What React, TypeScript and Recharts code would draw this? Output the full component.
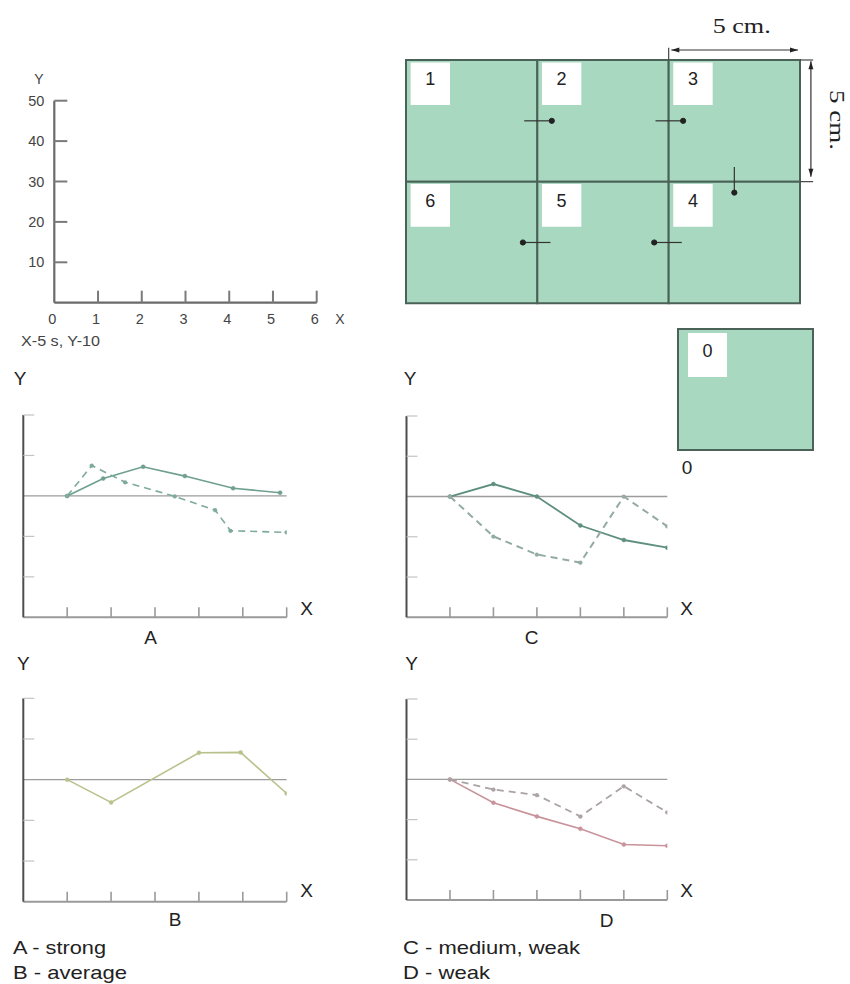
import React from 'react';
import { LineChart, Line, XAxis, YAxis, ReferenceLine, ReferenceArea, ReferenceDot } from 'recharts';

const sans = '"Liberation Sans", Arial, sans-serif';
const serif = '"Liberation Serif", "Times New Roman", serif';

// ---- top-left empty axes ----
const mainXTicks = [0, 1, 2, 3, 4, 5, 6];
const mainYTicks = [10, 20, 30, 40, 50];
const mainNote = 'X-5 s, Y-10';

// ---- cell diagram ----
const cells = [
  { id: '1', col: 0, row: 0 },
  { id: '2', col: 1, row: 0 },
  { id: '3', col: 2, row: 0 },
  { id: '6', col: 0, row: 1 },
  { id: '5', col: 1, row: 1 },
  { id: '4', col: 2, row: 1 },
];
const flows = [
  ['1', '2'],
  ['2', '3'],
  ['3', '4'],
  ['4', '5'],
  ['5', '6'],
];
const sizeLabel = '5 cm.';
const zeroCell = [{ id: '0', col: 0, row: 0 }];

// ---- small charts ----
const smallXTicks = [1, 2, 3, 4, 5, 6];
const smallYTicks = [-2, -1, 1, 2];

const aSolid = [
  { x: 1, y: 0 }, { x: 1.82, y: 0.43 }, { x: 2.73, y: 0.72 }, { x: 3.68, y: 0.49 }, { x: 4.78, y: 0.19 }, { x: 5.85, y: 0.08 },
];
const aDashed = [
  { x: 1, y: 0 }, { x: 1.56, y: 0.75 }, { x: 2.32, y: 0.34 }, { x: 3.45, y: -0.01 }, { x: 4.37, y: -0.35 }, { x: 4.72, y: -0.86 }, { x: 6.0, y: -0.9 },
];
const bSolid = [
  { x: 1, y: 0 }, { x: 2, y: -0.56 }, { x: 4, y: 0.66 }, { x: 4.95, y: 0.67 }, { x: 6, y: -0.34 },
];
const cSolid = [
  { x: 1, y: 0 }, { x: 2, y: 0.31 }, { x: 3, y: 0 }, { x: 4, y: -0.72 }, { x: 5, y: -1.08 }, { x: 6, y: -1.27 },
];
const cDashed = [
  { x: 1, y: 0 }, { x: 2, y: -0.99 }, { x: 3, y: -1.44 }, { x: 4, y: -1.64 }, { x: 5, y: 0 }, { x: 6, y: -0.74 },
];
const dSolid = [
  { x: 1, y: 0 }, { x: 2, y: -0.58 }, { x: 3, y: -0.92 }, { x: 4, y: -1.23 }, { x: 5, y: -1.62 }, { x: 6, y: -1.65 },
];
const dDashed = [
  { x: 1, y: 0 }, { x: 2, y: -0.25 }, { x: 3, y: -0.39 }, { x: 4, y: -0.92 }, { x: 5, y: -0.17 }, { x: 6, y: -0.82 },
];

const chartNames = ['A', 'B', 'C', 'D'];
const legendItems = ['A - strong', 'B - average', 'C - medium, weak', 'D - weak'];

// ---------------- ticks ----------------
const MainYTick = (p: any) => {
  const { x, y, payload } = p;
  return (
    <g>
      <line x1={x} x2={x + 13} y1={y} y2={y} stroke="#7a7a7a" strokeWidth={2} />
      <text x={x - 10} y={y} textAnchor="end" dominantBaseline="central" fontSize={14.5} fill="#444" fontFamily={sans}>
        {payload.value}
      </text>
    </g>
  );
};
const MainXTick = (p: any) => {
  const { x, y, payload } = p;
  return (
    <g>
      {payload.value !== 0 && <line x1={x} x2={x} y1={y} y2={y - 12} stroke="#7a7a7a" strokeWidth={2} />}
      <text x={x - 2} y={y + 16.5} textAnchor="middle" dominantBaseline="central" fontSize={14.5} fill="#444" fontFamily={sans}>
        {payload.value}
      </text>
    </g>
  );
};
const SmallYTick = (p: any) => {
  const { x, y } = p;
  return <line x1={x} x2={x + 11} y1={y} y2={y} stroke="#c4c4c4" strokeWidth={1.2} />;
};
const SmallXTick = (p: any) => {
  const { x, y } = p;
  return <line x1={x} x2={x} y1={y} y2={y - 10} stroke="#9a9a9a" strokeWidth={1.6} />;
};

const headShape = (dir: 'left' | 'right' | 'up' | 'down', s = 5) => (p: any) => {
  const { cx, cy } = p;
  let pts = '';
  if (dir === 'right') pts = `${cx},${cy} ${cx - s * 1.6},${cy - s / 2} ${cx - s * 1.6},${cy + s / 2}`;
  if (dir === 'left') pts = `${cx},${cy} ${cx + s * 1.6},${cy - s / 2} ${cx + s * 1.6},${cy + s / 2}`;
  if (dir === 'down') pts = `${cx},${cy} ${cx - s / 2},${cy - s * 1.6} ${cx + s / 2},${cy - s * 1.6}`;
  if (dir === 'up') pts = `${cx},${cy} ${cx - s / 2},${cy + s * 1.6} ${cx + s / 2},${cy + s * 1.6}`;
  return <polygon points={pts} fill="#222" />;
};

type Series = { data: { x: number; y: number }[]; color: string; dashed?: boolean; width?: number };

function SmallChart(props: {
  L: number; T: number; W: number; H: number;
  px0: number; px1: number; py0: number; py1: number;
  series: Series[];
}) {
  const { L, T, W, H, px0, px1, py0, py1, series } = props;
  return (
    <div style={{ position: 'absolute', left: L, top: T, width: W, height: H }}>
      <LineChart width={W} height={H} margin={{ top: py0 - T, right: L + W - px1, bottom: 0, left: 0 }}>
        <XAxis
          type="number"
          dataKey="x"
          domain={[0, 6]}
          ticks={smallXTicks}
          interval={0}
          allowDataOverflow
          height={T + H - py1}
          tickSize={0}
          tickMargin={0}
          tickLine={false}
          tick={<SmallXTick />}
          axisLine={{ stroke: '#9a9a9a', strokeWidth: 2 }}
        />
        <YAxis
          type="number"
          dataKey="y"
          domain={[-3, 2]}
          ticks={smallYTicks}
          interval={0}
          allowDataOverflow
          width={px0 - L}
          tickSize={0}
          tickMargin={0}
          tickLine={false}
          tick={<SmallYTick />}
          axisLine={{ stroke: '#4d4d4d', strokeWidth: 2 }}
        />
        <ReferenceLine y={0} stroke="#9c9c9c" strokeWidth={1.3} />
        {series.map((s, i) => (
          <Line
            key={i}
            data={s.data}
            dataKey="y"
            type="linear"
            stroke={s.color}
            strokeWidth={s.width ?? 1.6}
            strokeDasharray={s.dashed ? '7 5' : undefined}
            dot={{ r: 2, fill: s.color, stroke: s.color, strokeWidth: 0.5 }}
            isAnimationActive={false}
          />
        ))}
      </LineChart>
    </div>
  );
}

const GREEN = '#a9d8c0';
const BORDER = '#4b6258';

function CellDiagram() {
  const L = 400, T = 30, W = 450, H = 285;
  const px0 = 406, px1 = 800, py0 = 60, py1 = 303.3;
  const byId: Record<string, { col: number; row: number }> = {};
  cells.forEach((c) => (byId[c.id] = c));
  const arrows = flows.map(([a, b]) => {
    const ca = byId[a], cb = byId[b];
    if (ca.row === cb.row) {
      const bx = Math.max(ca.col, cb.col);
      const dir = cb.col > ca.col ? 1 : -1;
      const y = ca.row + 0.5;
      return { x1: bx - dir * 0.1, y1: y, x2: bx + dir * 0.11, y2: y, dir: dir > 0 ? 'right' : 'left' };
    }
    const by = Math.max(ca.row, cb.row);
    const x = ca.col + 0.5;
    return { x1: x, y1: by - 0.12, x2: x, y2: by + 0.09, dir: 'down' };
  });
  return (
    <div style={{ position: 'absolute', left: L, top: T, width: W, height: H }}>
      <LineChart
        width={W}
        height={H}
        data={cells}
        margin={{ top: py0 - T, right: L + W - px1, bottom: T + H - py1, left: px0 - L }}
      >
        <XAxis type="number" dataKey="col" domain={[0, 3]} hide allowDataOverflow />
        <YAxis type="number" dataKey="row" domain={[0, 2]} reversed hide allowDataOverflow />
        {cells.map((c) => (
          <ReferenceArea
            key={'c' + c.id}
            x1={c.col}
            x2={c.col + 1}
            y1={c.row}
            y2={c.row + 1}
            fill={GREEN}
            fillOpacity={1}
            stroke={BORDER}
            strokeWidth={2}
          />
        ))}
        {cells.map((c) => (
          <ReferenceArea
            key={'w' + c.id}
            x1={c.col + 0.035}
            x2={c.col + 0.335}
            y1={c.row + 0.02}
            y2={c.row + 0.37}
            fill="#ffffff"
            fillOpacity={1}
            stroke="none"
            label={{ value: c.id, position: 'center', fontSize: 18, fill: '#222', fontFamily: sans, dy: -5 }}
          />
        ))}
        {arrows.map((a, i) => (
          <ReferenceLine
            key={'a' + i}
            segment={[{ x: a.x1, y: a.y1 }, { x: a.x2, y: a.y2 }]}
            stroke="#333"
            strokeWidth={1.2}
          />
        ))}
        {arrows.map((a, i) => (
          <ReferenceDot key={'ad' + i} x={a.x2} y={a.y2} r={2.6} fill="#222" stroke="#222" />
        ))}
        {/* dimension: horizontal */}
        <ReferenceLine segment={[{ x: 2, y: -0.1 }, { x: 2, y: 0 }]} stroke="#444" strokeWidth={1.2} ifOverflow="visible" />
        <ReferenceLine segment={[{ x: 2.02, y: -0.082 }, { x: 2.985, y: -0.082 }]} stroke="#333" strokeWidth={1.2} ifOverflow="visible" />
        <ReferenceDot x={2.02} y={-0.082} ifOverflow="visible" shape={headShape('left')} />
        <ReferenceDot x={2.985} y={-0.082} ifOverflow="visible" shape={headShape('right')} />
        {/* dimension: vertical */}
        <ReferenceLine segment={[{ x: 3, y: 0 }, { x: 3.1, y: 0 }]} stroke="#444" strokeWidth={1.2} ifOverflow="visible" />
        <ReferenceLine segment={[{ x: 3, y: 1 }, { x: 3.1, y: 1 }]} stroke="#444" strokeWidth={1.2} ifOverflow="visible" />
        <ReferenceLine segment={[{ x: 3.083, y: 0.01 }, { x: 3.083, y: 0.96 }]} stroke="#333" strokeWidth={1.2} ifOverflow="visible" />
        <ReferenceDot x={3.083} y={0.01} ifOverflow="visible" shape={headShape('up')} />
        <ReferenceDot x={3.083} y={0.96} ifOverflow="visible" shape={headShape('down')} />
      </LineChart>
    </div>
  );
}

function ZeroCell() {
  const L = 670, T = 320, W = 160, H = 140;
  const px0 = 678, px1 = 813, py0 = 329, py1 = 450;
  return (
    <div style={{ position: 'absolute', left: L, top: T, width: W, height: H }}>
      <LineChart
        width={W}
        height={H}
        data={zeroCell}
        margin={{ top: py0 - T, right: L + W - px1, bottom: T + H - py1, left: px0 - L }}
      >
        <XAxis type="number" dataKey="col" domain={[0, 1]} hide allowDataOverflow />
        <YAxis type="number" dataKey="row" domain={[0, 1]} reversed hide allowDataOverflow />
        {zeroCell.map((c) => (
          <ReferenceArea key={'z' + c.id} x1={c.col} x2={c.col + 1} y1={c.row} y2={c.row + 1} fill={GREEN} fillOpacity={1} stroke={BORDER} strokeWidth={2} />
        ))}
        {zeroCell.map((c) => (
          <ReferenceArea
            key={'zw' + c.id}
            x1={c.col + 0.074}
            x2={c.col + 0.363}
            y1={c.row + 0.033}
            y2={c.row + 0.397}
            fill="#ffffff"
            fillOpacity={1}
            stroke="none"
            label={{ value: c.id, position: 'center', fontSize: 18, fill: '#222', fontFamily: sans, dy: -4 }}
          />
        ))}
      </LineChart>
    </div>
  );
}

function MainAxes() {
  const L = 0, T = 85, W = 345, H = 255;
  const px0 = 54.3, px1 = 316.7, py0 = 100.7, py1 = 302.7;
  return (
    <div style={{ position: 'absolute', left: L, top: T, width: W, height: H }}>
      <LineChart
        width={W}
        height={H}
        data={mainXTicks.map((x) => ({ x }))}
        margin={{ top: py0 - T, right: L + W - px1, bottom: 0, left: 0 }}
      >
        <XAxis
          type="number"
          dataKey="x"
          domain={[0, 6]}
          ticks={mainXTicks}
          interval={0}
          allowDataOverflow
          height={T + H - py1}
          tickSize={0}
          tickMargin={0}
          tickLine={false}
          tick={<MainXTick />}
          axisLine={{ stroke: '#6a6a6a', strokeWidth: 2.2 }}
        />
        <YAxis
          type="number"
          domain={[0, 50]}
          ticks={mainYTicks}
          interval={0}
          allowDataOverflow
          width={px0 - L}
          tickSize={0}
          tickMargin={0}
          tickLine={false}
          tick={<MainYTick />}
          axisLine={{ stroke: '#6a6a6a', strokeWidth: 2.2 }}
        />
      </LineChart>
    </div>
  );
}

const T = (props: any) => (
  <text dominantBaseline="central" fill="#222" fontFamily={sans} lengthAdjust="spacingAndGlyphs" {...props} />
);

export default function App() {
  return (
    <div style={{ position: 'absolute', left: 0, top: 0, width: 850, height: 984, background: '#fff', overflow: 'hidden' }}>
      <MainAxes />
      <CellDiagram />
      <ZeroCell />
      <SmallChart L={0} T={395} W={320} H={240} px0={23.3} px1={286.7} py0={415} py1={617.3}
        series={[{ data: aSolid, color: '#6f9f8f' }, { data: aDashed, color: '#7eaa9b', dashed: true }]} />
      <SmallChart L={380} T={395} W={320} H={240} px0={406.5} px1={667.3} py0={416} py1={617.3}
        series={[{ data: cSolid, color: '#5f8f80', width: 1.8 }, { data: cDashed, color: '#93aba4', dashed: true, width: 2 }]} />
      <SmallChart L={0} T={680} W={320} H={240} px0={23.3} px1={286.7} py0={698.3} py1={901.7}
        series={[{ data: bSolid, color: '#b8c28c' }]} />
      <SmallChart L={380} T={680} W={320} H={240} px0={406.5} px1={667.3} py0={699} py1={900}
        series={[{ data: dSolid, color: '#c8939b' }, { data: dDashed, color: '#aaa2a3', dashed: true, width: 1.8 }]} />

      <svg width={850} height={984} style={{ position: 'absolute', left: 0, top: 0, pointerEvents: 'none' }}>
        {/* top-left labels */}
        <T x={39} y={79} fontSize={14} fill="#444" textAnchor="middle">Y</T>
        <T x={340} y={319} fontSize={14} fill="#444" textAnchor="middle">X</T>
        <T x={21} y={341} fontSize={14} fill="#444" textLength={79}>{mainNote}</T>
        {/* dimension labels */}
        <T x={741.7} y={26} fontSize={20} fontFamily={serif} textAnchor="middle" textLength={58}>{sizeLabel}</T>
        <T x={836.7} y={120} fontSize={20} fontFamily={serif} textAnchor="middle" textLength={60} transform="rotate(90 836.7 120)">{sizeLabel}</T>
        <T x={687} y={467} fontSize={19} textAnchor="middle">0</T>
        {/* small chart labels */}
        <T x={20} y={378} fontSize={19} textAnchor="middle">Y</T>
        <T x={306.7} y={608} fontSize={19} textAnchor="middle">X</T>
        <T x={150.7} y={637} fontSize={19} textAnchor="middle">{chartNames[0]}</T>
        <T x={410} y={378} fontSize={19} textAnchor="middle">Y</T>
        <T x={686.7} y={608} fontSize={19} textAnchor="middle">X</T>
        <T x={531.7} y={637} fontSize={19} textAnchor="middle">{chartNames[2]}</T>
        <T x={23.3} y={663} fontSize={19} textAnchor="middle">Y</T>
        <T x={306.7} y={890} fontSize={19} textAnchor="middle">X</T>
        <T x={175} y={919.5} fontSize={19} textAnchor="middle">{chartNames[1]}</T>
        <T x={411.7} y={663} fontSize={19} textAnchor="middle">Y</T>
        <T x={686.7} y={890} fontSize={19} textAnchor="middle">X</T>
        <T x={606.7} y={920} fontSize={19} textAnchor="middle">{chartNames[3]}</T>
        {/* legend */}
        <T x={13} y={947} fontSize={18.5} textLength={93}>{legendItems[0]}</T>
        <T x={13} y={972} fontSize={18.5} textLength={114}>{legendItems[1]}</T>
        <T x={403} y={947} fontSize={18.5} textLength={177}>{legendItems[2]}</T>
        <T x={403} y={972} fontSize={18.5} textLength={87}>{legendItems[3]}</T>
      </svg>
    </div>
  );
}
